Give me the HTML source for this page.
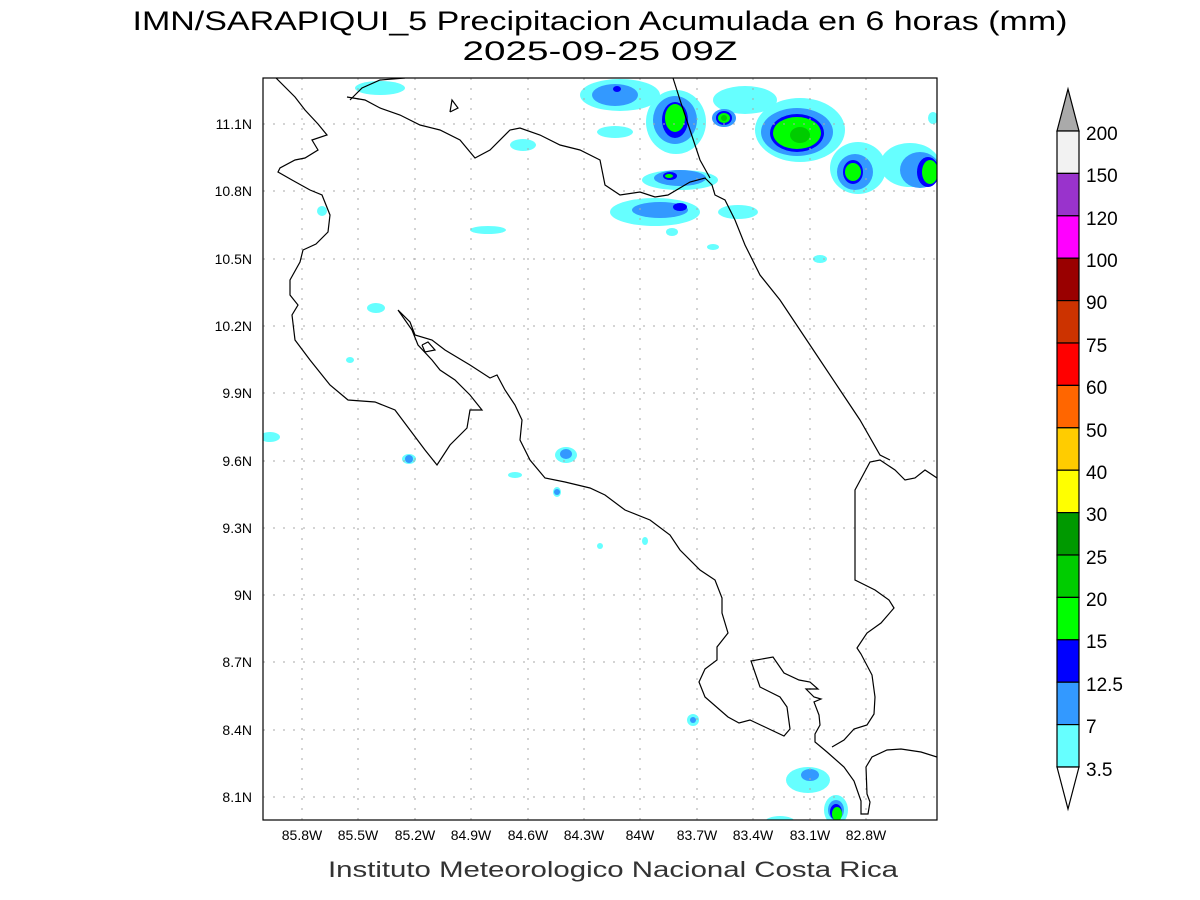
<!DOCTYPE html>
<html><head><meta charset="utf-8"><style>
html,body{margin:0;padding:0;background:#fff;width:1200px;height:900px;overflow:hidden}
svg text{font-family:"Liberation Sans",sans-serif}
</style></head><body>
<svg width="1200" height="900" xmlns="http://www.w3.org/2000/svg">
<rect width="1200" height="900" fill="#fff"/>
<text x="600" y="30" font-size="27" text-anchor="middle" fill="#000" textLength="935" lengthAdjust="spacingAndGlyphs">IMN/SARAPIQUI_5 Precipitacion Acumulada en 6 horas (mm)</text>
<text x="600" y="60" font-size="27" text-anchor="middle" fill="#000" textLength="275" lengthAdjust="spacingAndGlyphs">2025-09-25 09Z</text>
<defs><clipPath id="c"><rect x="263" y="78" width="674" height="742"/></clipPath></defs>
<g clip-path="url(#c)">
<g fill="#66ffff">
<ellipse cx="620" cy="95" rx="40" ry="16"/><ellipse cx="676" cy="122" rx="30" ry="32"/>
<ellipse cx="745" cy="100" rx="32" ry="14"/><ellipse cx="800" cy="130" rx="45" ry="32"/>
<ellipse cx="858" cy="168" rx="28" ry="26"/><ellipse cx="910" cy="165" rx="30" ry="22"/>
<ellipse cx="680" cy="180" rx="38" ry="10"/><ellipse cx="655" cy="212" rx="45" ry="14"/>
<ellipse cx="738" cy="212" rx="20" ry="7"/><ellipse cx="615" cy="132" rx="18" ry="6"/>
<ellipse cx="380" cy="88" rx="25" ry="7"/><ellipse cx="523" cy="145" rx="13" ry="6"/>
<ellipse cx="488" cy="230" rx="18" ry="4"/><ellipse cx="376" cy="308" rx="9" ry="5"/>
<ellipse cx="322" cy="211" rx="5" ry="5"/><ellipse cx="270" cy="437" rx="10" ry="5"/>
<ellipse cx="409" cy="459" rx="7" ry="5"/><ellipse cx="566" cy="455" rx="11" ry="8"/>
<ellipse cx="515" cy="475" rx="7" ry="3"/><ellipse cx="557" cy="492" rx="4" ry="5"/>
<ellipse cx="820" cy="259" rx="7" ry="4"/><ellipse cx="693" cy="720" rx="6" ry="6"/>
<ellipse cx="808" cy="780" rx="22" ry="13"/><ellipse cx="836" cy="810" rx="12" ry="15"/>
<ellipse cx="780" cy="822" rx="15" ry="6"/><ellipse cx="713" cy="247" rx="6" ry="3"/>
<ellipse cx="672" cy="232" rx="6" ry="4"/><ellipse cx="350" cy="360" rx="4" ry="3"/>
<ellipse cx="645" cy="541" rx="3" ry="4"/><ellipse cx="600" cy="546" rx="3" ry="3"/>
<ellipse cx="933" cy="118" rx="5" ry="6"/>
</g>
<g fill="#3399ff">
<ellipse cx="615" cy="95" rx="23" ry="11"/><ellipse cx="675" cy="120" rx="22" ry="24"/>
<ellipse cx="724" cy="118" rx="12" ry="9"/><ellipse cx="797" cy="132" rx="36" ry="24"/>
<ellipse cx="855" cy="172" rx="18" ry="18"/><ellipse cx="920" cy="170" rx="20" ry="18"/>
<ellipse cx="680" cy="178" rx="26" ry="8"/><ellipse cx="660" cy="210" rx="28" ry="8"/>
<ellipse cx="566" cy="454" rx="6" ry="5"/><ellipse cx="409" cy="459" rx="4" ry="4"/>
<ellipse cx="693" cy="720" rx="3" ry="3"/><ellipse cx="810" cy="775" rx="9" ry="6"/>
<ellipse cx="836" cy="810" rx="8" ry="10"/><ellipse cx="557" cy="492" rx="3" ry="3"/>
</g>
<g fill="#0000ff">
<ellipse cx="617" cy="89" rx="4" ry="3"/><ellipse cx="675" cy="120" rx="13" ry="18"/>
<ellipse cx="724" cy="118" rx="8" ry="7"/><ellipse cx="797" cy="133" rx="27" ry="19"/>
<ellipse cx="853" cy="172" rx="10" ry="12"/><ellipse cx="928" cy="172" rx="11" ry="15"/>
<ellipse cx="670" cy="176" rx="7" ry="4"/><ellipse cx="680" cy="207" rx="7" ry="4"/>
<ellipse cx="836" cy="812" rx="6" ry="8"/>
</g>
<g fill="#00ff00">
<ellipse cx="675" cy="118" rx="10" ry="14"/><ellipse cx="724" cy="118" rx="6" ry="5"/>
<ellipse cx="797" cy="133" rx="24" ry="16"/><ellipse cx="853" cy="172" rx="8" ry="9"/>
<ellipse cx="930" cy="172" rx="8" ry="12"/><ellipse cx="669" cy="176" rx="4" ry="2"/>
<ellipse cx="837" cy="814" rx="5" ry="7"/>
</g>
<g fill="#00cc00"><ellipse cx="800" cy="135" rx="10" ry="8"/><ellipse cx="724" cy="118" rx="3" ry="3"/></g>
<g stroke="#aaa" stroke-width="1" stroke-dasharray="2,8">
<path d="M302 78V820M358 78V820M415 78V820M471 78V820M528 78V820M584 78V820M640 78V820M697 78V820M753 78V820M810 78V820M866 78V820"/>
<path d="M263 124H937M263 191H937M263 259H937M263 326H937M263 393H937M263 461H937M263 528H937M263 595H937M263 662H937M263 730H937M263 797H937"/>
</g>
<g fill="none" stroke="#000" stroke-width="1.2">
<polyline points="276,78 295,97 305,110 318,124 327,135 312,140 318,150 305,158 295,160 280,168 278,172 292,180 310,190 322,195 330,215 328,232 316,244 303,250 300,262 290,280 290,295 298,305 292,315 295,340 310,360 330,385 348,400 375,402 395,410 410,430 425,450 437,465 450,445 467,428 470,410 482,410 470,395 455,380 440,370 432,360 418,345 412,330 398,310 410,322 415,335 432,340 445,350 470,365 490,378 497,375 505,390 515,405 522,420 520,440 530,460 545,478 565,482 590,488 605,495 625,510 650,520 670,535 680,550 700,570 715,580 722,598 722,613 728,633 717,647 717,660 705,669 699,682 705,697 728,717 739,723 750,720 784,736 790,729 787,707 780,697 760,687 751,661 773,657 784,673 799,680 810,682 818,689 806,689 814,697 821,699 814,702 819,715 820,725 815,734 815,742 827,752 844,767 854,781 861,801 861,814 868,814 870,802 867,794 866,767 872,757 887,750 901,749 921,752 937,757"/>
<polyline points="832,747 844,740 854,729 867,725 874,714 875,697 872,675 861,654 857,648 867,633 881,623 894,608 889,600 875,590 855,580 855,490 870,462 880,460 895,470 905,480 915,478 925,470 937,478"/>
<polyline points="347,97 365,100 380,108 400,115 420,125 440,130 460,140 475,158 490,150 510,130 520,128 540,135 560,145 580,150 600,160 605,185 620,195 640,192 655,197 668,195 690,182 705,178 712,185 715,195 725,200 735,220 745,245 760,275 780,300 800,330 820,360 840,390 860,420 880,455 890,460"/>
<polyline points="673,78 680,100 690,130 700,160 710,178"/>
<polyline points="350,100 362,88 380,80 405,78"/>
<polyline points="450,112 452,100 458,108 450,112"/>
<polyline points="422,345 428,342 435,350 425,352 422,345"/>
</g>
</g>
<rect x="263" y="78" width="674" height="742" fill="none" stroke="#000" stroke-width="1.2"/>
<g font-size="14" fill="#000" text-anchor="middle">
<text x="302" y="840">85.8W</text><text x="358" y="840">85.5W</text><text x="415" y="840">85.2W</text><text x="471" y="840">84.9W</text><text x="528" y="840">84.6W</text><text x="584" y="840">84.3W</text><text x="640" y="840">84W</text><text x="697" y="840">83.7W</text><text x="753" y="840">83.4W</text><text x="810" y="840">83.1W</text><text x="866" y="840">82.8W</text>
</g>
<g font-size="14" fill="#000" text-anchor="end">
<text x="252" y="129">11.1N</text><text x="252" y="196">10.8N</text><text x="252" y="264">10.5N</text><text x="252" y="331">10.2N</text><text x="252" y="398">9.9N</text><text x="252" y="466">9.6N</text><text x="252" y="533">9.3N</text><text x="252" y="600">9N</text><text x="252" y="667">8.7N</text><text x="252" y="735">8.4N</text><text x="252" y="802">8.1N</text>
</g>
<text x="613" y="877" font-size="22" text-anchor="middle" fill="#333" textLength="570" lengthAdjust="spacingAndGlyphs">Instituto Meteorologico Nacional Costa Rica</text>
<g stroke="#000" stroke-width="1.2">
<polygon points="1057,131 1079,131 1068,89" fill="#aaaaaa"/>
<rect x="1057" y="131" width="22" height="42.4" fill="#f2f2f2"/>
<rect x="1057" y="173.4" width="22" height="42.4" fill="#9933cc"/>
<rect x="1057" y="215.8" width="22" height="42.4" fill="#ff00ff"/>
<rect x="1057" y="258.2" width="22" height="42.4" fill="#990000"/>
<rect x="1057" y="300.6" width="22" height="42.4" fill="#cc3300"/>
<rect x="1057" y="343" width="22" height="42.4" fill="#ff0000"/>
<rect x="1057" y="385.4" width="22" height="42.4" fill="#ff6600"/>
<rect x="1057" y="427.8" width="22" height="42.4" fill="#ffcc00"/>
<rect x="1057" y="470.2" width="22" height="42.4" fill="#ffff00"/>
<rect x="1057" y="512.6" width="22" height="42.4" fill="#009900"/>
<rect x="1057" y="555" width="22" height="42.4" fill="#00cc00"/>
<rect x="1057" y="597.4" width="22" height="42.4" fill="#00ff00"/>
<rect x="1057" y="639.8" width="22" height="42.4" fill="#0000ff"/>
<rect x="1057" y="682.2" width="22" height="42.4" fill="#3399ff"/>
<rect x="1057" y="724.6" width="22" height="42.4" fill="#66ffff"/>
<polygon points="1057,767 1079,767 1068,809" fill="#fff"/>
</g>
<g font-size="19" fill="#000">
<text x="1086" y="140">200</text><text x="1086" y="182">150</text><text x="1086" y="225">120</text><text x="1086" y="267">100</text><text x="1086" y="309">90</text><text x="1086" y="352">75</text><text x="1086" y="394">60</text><text x="1086" y="437">50</text><text x="1086" y="479">40</text><text x="1086" y="521">30</text><text x="1086" y="564">25</text><text x="1086" y="606">20</text><text x="1086" y="648">15</text><text x="1086" y="691">12.5</text><text x="1086" y="733">7</text><text x="1086" y="776">3.5</text>
</g>
</svg>
</body></html>
